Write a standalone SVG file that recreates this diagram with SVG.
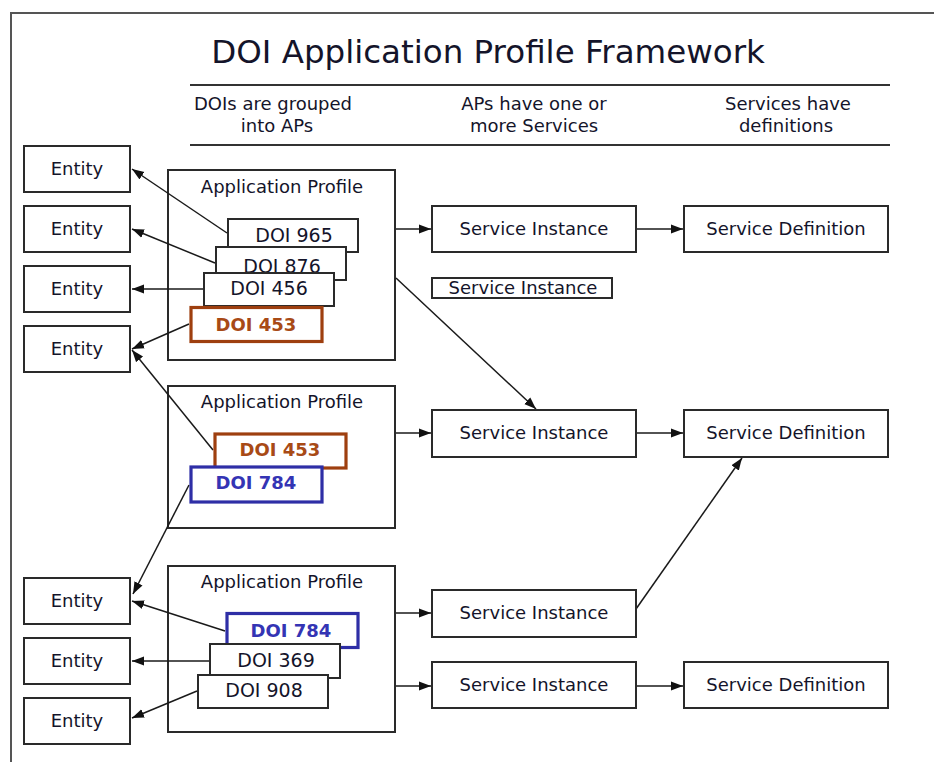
<svg xmlns="http://www.w3.org/2000/svg" width="934" height="762" viewBox="0 0 934 762">
<style>
.bx{fill:#fff;stroke:#2a2a2a;stroke-width:2}
.t{font-family:"DejaVu Sans",Verdana,sans-serif;font-size:18px;fill:#14142a;text-anchor:middle}
.d{font-size:19px}
.br{fill:#fff;stroke:#9e3f0f;stroke-width:3.2}
.bl{fill:#fff;stroke:#2e2ea6;stroke-width:3.2}
.tb{font-weight:bold;font-size:18px;fill:#a84a16}
.tbl{font-weight:bold;font-size:18px;fill:#3434b4}
.c{stroke:#1a1a1a;stroke-width:1.5;fill:none;marker-end:url(#ah)}
</style>
<defs>
<marker id="ah" markerUnits="userSpaceOnUse" markerWidth="13" markerHeight="11" refX="12" refY="5" orient="auto">
<path d="M0,0.5 L12,5 L0,9.5 z" fill="#111"/>
</marker>
</defs>
<rect width="934" height="762" fill="#fff"/>
<path d="M11,762 V13 H934" fill="none" stroke="#555" stroke-width="2"/>
<g id="header">
<text class="t" x="488" y="63" style="font-size:32.5px">DOI Application Profile Framework</text>
<line x1="190" y1="85" x2="890" y2="85" stroke="#333" stroke-width="2"/>
<line x1="190" y1="145" x2="890" y2="145" stroke="#333" stroke-width="2"/>
<text class="t" x="273" y="110">DOIs are grouped</text>
<text class="t" x="277" y="132">into APs</text>
<text class="t" x="534" y="110">APs have one or</text>
<text class="t" x="534" y="132">more Services</text>
<text class="t" x="788" y="110">Services have</text>
<text class="t" x="786" y="132">definitions</text>
</g>
<g id="entity1"><rect class="bx" x="24" y="146" width="106" height="46"/><text class="t" x="77" y="175">Entity</text></g>
<g id="entity2"><rect class="bx" x="24" y="206" width="106" height="46"/><text class="t" x="77" y="235">Entity</text></g>
<g id="entity3"><rect class="bx" x="24" y="266" width="106" height="46"/><text class="t" x="77" y="295">Entity</text></g>
<g id="entity4"><rect class="bx" x="24" y="326" width="106" height="46"/><text class="t" x="77" y="355">Entity</text></g>
<g id="entity5"><rect class="bx" x="24" y="578" width="106" height="46"/><text class="t" x="77" y="607">Entity</text></g>
<g id="entity6"><rect class="bx" x="24" y="638" width="106" height="46"/><text class="t" x="77" y="667">Entity</text></g>
<g id="entity7"><rect class="bx" x="24" y="698" width="106" height="46"/><text class="t" x="77" y="727">Entity</text></g>
<g id="ap1">
<rect class="bx" x="168" y="170" width="227" height="190"/>
<text class="t" x="282" y="193">Application Profile</text>
</g>
<g id="ap2">
<rect class="bx" x="168" y="386" width="227" height="142"/>
<text class="t" x="282" y="408">Application Profile</text>
</g>
<g id="ap3">
<rect class="bx" x="168" y="566" width="227" height="166"/>
<text class="t" x="282" y="588">Application Profile</text>
</g>
<g id="connectors">
<line class="c" x1="227" y1="233" x2="132" y2="169"/>
<line class="c" x1="215" y1="263" x2="132" y2="229"/>
<line class="c" x1="203" y1="289" x2="132" y2="289"/>
<line class="c" x1="189" y1="324" x2="132" y2="349"/>
<line class="c" x1="213" y1="450" x2="132" y2="350"/>
<line class="c" x1="189" y1="485" x2="133" y2="594"/>
<line class="c" x1="225" y1="631" x2="132" y2="601"/>
<line class="c" x1="209" y1="661" x2="132" y2="661"/>
<line class="c" x1="197" y1="691" x2="132" y2="718"/>
<line class="c" x1="396" y1="229" x2="431" y2="229"/>
<line class="c" x1="636" y1="229" x2="683" y2="229"/>
<line class="c" x1="396" y1="278" x2="536" y2="409"/>
<line class="c" x1="396" y1="433" x2="431" y2="433"/>
<line class="c" x1="636" y1="433" x2="683" y2="433"/>
<line class="c" x1="636" y1="609" x2="742" y2="458"/>
<line class="c" x1="396" y1="613" x2="431" y2="613"/>
<line class="c" x1="396" y1="686" x2="431" y2="686"/>
<line class="c" x1="636" y1="686" x2="683" y2="686"/>
</g>
<g id="doi965"><rect class="bx" x="228" y="219" width="130" height="33"/><text class="t d" x="294" y="242">DOI 965</text></g>
<g id="doi876"><rect class="bx" x="216" y="247" width="130" height="33"/><text class="t d" x="282" y="273">DOI 876</text></g>
<g id="doi456"><rect class="bx" x="204" y="273" width="130" height="33"/><text class="t d" x="269" y="295">DOI 456</text></g>
<g id="doi453a"><rect class="br" x="191" y="307.5" width="131" height="34"/><text class="t tb" x="256" y="331">DOI 453</text></g>
<g id="doi453b"><rect class="br" x="215" y="434" width="131" height="34"/><text class="t tb" x="280" y="456">DOI 453</text></g>
<g id="doi784a"><rect class="bl" x="191" y="467" width="131" height="35"/><text class="t tbl" x="256" y="489">DOI 784</text></g>
<g id="doi784b"><rect class="bl" x="227" y="613.5" width="131" height="34"/><text class="t tbl" x="291" y="637">DOI 784</text></g>
<g id="doi369"><rect class="bx" x="210" y="644" width="130" height="34"/><text class="t d" x="276" y="667">DOI 369</text></g>
<g id="doi908"><rect class="bx" x="198" y="675" width="130" height="33"/><text class="t d" x="264" y="697">DOI 908</text></g>
<g id="si1"><rect class="bx" x="432" y="206" width="204" height="46"/><text class="t" x="534" y="235">Service Instance</text></g>
<g id="si_small"><rect class="bx" x="432" y="278" width="180" height="20"/><text class="t" x="523" y="294">Service Instance</text></g>
<g id="si2"><rect class="bx" x="432" y="410" width="204" height="47"/><text class="t" x="534" y="439">Service Instance</text></g>
<g id="si3"><rect class="bx" x="432" y="590" width="204" height="47"/><text class="t" x="534" y="619">Service Instance</text></g>
<g id="si4"><rect class="bx" x="432" y="662" width="204" height="46"/><text class="t" x="534" y="691">Service Instance</text></g>
<g id="sd1"><rect class="bx" x="684" y="206" width="204" height="46"/><text class="t" x="786" y="235">Service Definition</text></g>
<g id="sd2"><rect class="bx" x="684" y="410" width="204" height="47"/><text class="t" x="786" y="439">Service Definition</text></g>
<g id="sd3"><rect class="bx" x="684" y="662" width="204" height="46"/><text class="t" x="786" y="691">Service Definition</text></g>
</svg>
